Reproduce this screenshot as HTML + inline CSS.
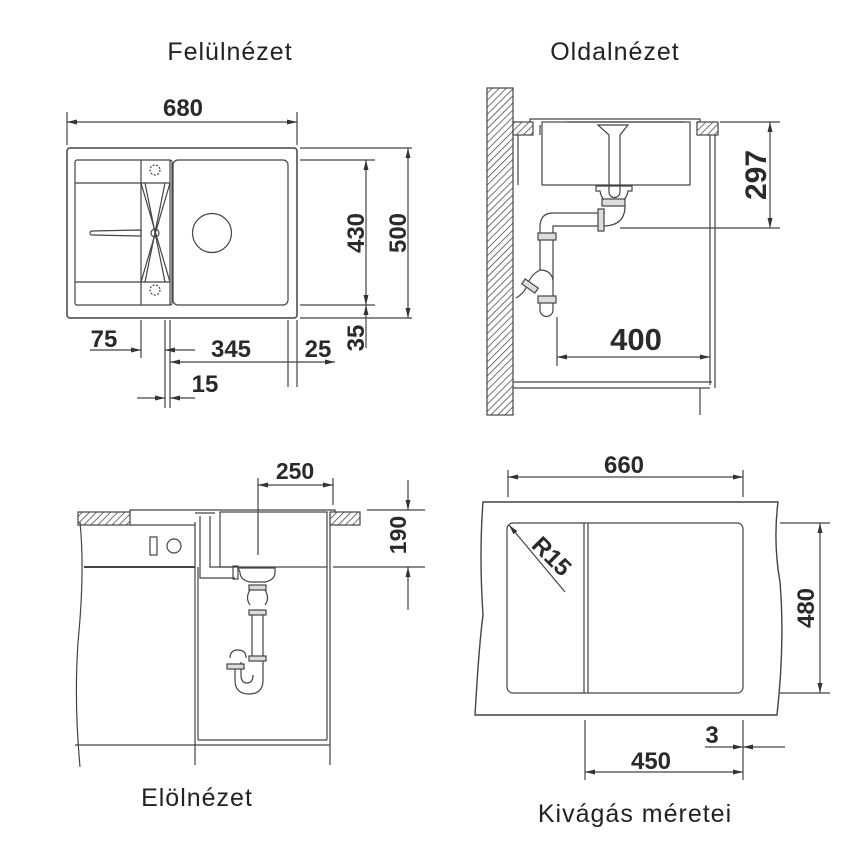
<!DOCTYPE html>
<html><head><meta charset="utf-8"><style>
html,body{margin:0;padding:0;background:#fff;}
svg{display:block}
.t{font-family:"Liberation Sans",sans-serif;font-size:25px;fill:#222;letter-spacing:1px}
.d{font-family:"Liberation Sans",sans-serif;font-weight:bold;fill:#2a2a2a}
</style></head><body>
<svg width="850" height="850" viewBox="0 0 850 850" xmlns="http://www.w3.org/2000/svg">
<defs>
<pattern id="h" width="5" height="5" patternUnits="userSpaceOnUse" patternTransform="rotate(45)">
<rect width="5" height="5" fill="#fff"/><line x1="0" y1="0" x2="0" y2="5" stroke="#444" stroke-width="1.5"/>
</pattern>
<marker id="a" viewBox="0 0 10 6" refX="10" refY="3" markerWidth="10" markerHeight="6" orient="auto-start-reverse" markerUnits="userSpaceOnUse">
<path d="M0,0.5 L10,3 L0,5.5z" fill="#333"/></marker>
</defs>
<g fill="none" stroke="#444" stroke-width="1.2">

<!-- TOP LEFT -->
<line x1="67" y1="112" x2="67" y2="145"/><line x1="297" y1="112" x2="297" y2="145"/>
<line x1="67" y1="122" x2="297" y2="122" marker-start="url(#a)" marker-end="url(#a)"/>
<rect x="67" y="148" width="230" height="170" rx="3" stroke-width="1.5"/>
<rect x="75" y="160" width="97" height="145" rx="2"/>
<rect x="173" y="160" width="115" height="145" rx="5"/>
<line x1="141" y1="160" x2="141" y2="305"/><line x1="170" y1="160" x2="170" y2="305"/>
<line x1="75" y1="183" x2="170" y2="183"/><line x1="75" y1="282" x2="170" y2="282"/>
<line x1="141" y1="183" x2="170" y2="282"/><line x1="170" y1="183" x2="141" y2="282"/>
<line x1="145" y1="183" x2="165" y2="282"/><line x1="165" y1="183" x2="145" y2="282"/>
<circle cx="155" cy="170" r="5" stroke-dasharray="2 1.5"/><circle cx="155" cy="290" r="5" stroke-dasharray="2 1.5"/>
<circle cx="155" cy="233" r="4"/>
<path d="M92,231 L141,230 L141,236 L92,235 a2,2 0 0 1 0,-4z"/>
<circle cx="212" cy="233" r="19.5"/>
<line x1="300" y1="148" x2="412" y2="148"/><line x1="300" y1="318" x2="412" y2="318"/>
<line x1="300" y1="160" x2="375" y2="160"/><line x1="300" y1="305" x2="375" y2="305"/>
<line x1="366" y1="160" x2="366" y2="305" marker-start="url(#a)" marker-end="url(#a)"/>
<line x1="408" y1="148" x2="408" y2="318" marker-start="url(#a)" marker-end="url(#a)"/>
<line x1="366" y1="348" x2="366" y2="305" marker-end="url(#a)"/>
<line x1="141" y1="320" x2="141" y2="358"/>
<line x1="165" y1="320" x2="165" y2="408"/><line x1="170" y1="320" x2="170" y2="408"/>
<line x1="288" y1="320" x2="288" y2="387"/><line x1="297" y1="320" x2="297" y2="387"/>
<line x1="90" y1="350" x2="141" y2="350" marker-end="url(#a)"/>
<line x1="195" y1="350" x2="165" y2="350" marker-end="url(#a)"/>
<line x1="170" y1="362" x2="335" y2="362" marker-start="url(#a)" marker-end="url(#a)"/>
<line x1="137" y1="398" x2="165" y2="398" marker-end="url(#a)"/>
<line x1="195" y1="398" x2="170" y2="398" marker-end="url(#a)"/>

<!-- TOP RIGHT -->
<rect x="487" y="88" width="26" height="327" fill="url(#h)"/>
<rect x="513" y="122" width="20" height="13" fill="url(#h)"/>
<rect x="697" y="122" width="21" height="13" fill="url(#h)"/>
<path d="M530,122 L530,119 L700,119 L700,122"/>
<line x1="567" y1="122" x2="685" y2="122"/>
<rect x="542" y="122" width="148" height="63"/>
<line x1="518" y1="135" x2="518" y2="185"/><line x1="540" y1="125" x2="540" y2="135"/>
<line x1="710" y1="135" x2="710" y2="385"/><line x1="715" y1="135" x2="715" y2="388"/>
<path d="M598,125 L628,125 L620,135 L620,192 a5,5 0 0 1 -11,0 L609,135z"/>
<path d="M596,186 L632,186 L632,191 L628,191 q-2,12 -14,12 q-12,0 -14,-12 L596,191z"/>
<rect x="602" y="199" width="23" height="7" fill="#ddd"/>
<path d="M625,206 q0,20 -22,20 L553,226 L553,235 M605,213 L553,213 q-13,0 -13,14 L540,235"/>
<rect x="598" y="209" width="6" height="22" fill="#ddd"/>
<rect x="538" y="233" width="18" height="7" fill="#ddd"/>
<path d="M540,240 L540,270 M553,240 L553,310 a6,6 0 0 1 -13,0 L540,298"/>
<path d="M540,270 q-10,5 -14,18 q-3,6 -10,10 M553,280 q-2,-10 -13,-10"/>
<rect x="538" y="296" width="18" height="7" fill="#ddd"/>
<rect x="522" y="283" width="16" height="6" fill="#ddd" transform="rotate(35 530 286)"/>
<line x1="720" y1="122" x2="780" y2="122"/><line x1="620" y1="228" x2="780" y2="228"/>
<line x1="770" y1="122" x2="770" y2="228" marker-start="url(#a)" marker-end="url(#a)"/>
<line x1="557" y1="317" x2="557" y2="366"/>
<line x1="557" y1="357" x2="710" y2="357" marker-start="url(#a)" marker-end="url(#a)"/>
<line x1="513" y1="382" x2="712" y2="382"/><line x1="513" y1="388" x2="710" y2="388"/>
<line x1="700" y1="388" x2="700" y2="415"/>

<!-- BOTTOM LEFT -->
<line x1="258" y1="478" x2="258" y2="555"/><line x1="333" y1="478" x2="333" y2="505"/>
<line x1="258" y1="485" x2="333" y2="485" marker-start="url(#a)" marker-end="url(#a)"/>
<rect x="78" y="512" width="52" height="13" fill="url(#h)"/>
<rect x="330" y="512" width="30" height="13" fill="url(#h)"/>
<path d="M130,512 L130,510 L335,510 L335,512"/>
<rect x="220" y="512" width="107" height="55"/>
<line x1="195" y1="522" x2="195" y2="765"/><line x1="330" y1="522" x2="330" y2="765"/>
<line x1="198" y1="567" x2="198" y2="740"/><line x1="327" y1="567" x2="327" y2="740"/>
<line x1="198" y1="740" x2="327" y2="740"/>
<line x1="75" y1="745" x2="330" y2="745"/>
<path d="M80,522 q5,50 -2,120 q-4,60 2,125"/>
<line x1="84" y1="567" x2="195" y2="567" stroke-width="2"/>
<line x1="130" y1="525" x2="195" y2="525"/>
<rect x="150" y="537" width="7" height="18"/><circle cx="174" cy="546" r="7"/>
<path d="M195,513 L215,513 M200,516 L200,578 L235,578 M210,516 L210,567 L235,567"/>
<rect x="233" y="566" width="5" height="13"/>
<path d="M238,568 L275,568 L275,572 q0,8 -10,10 L250,582 q-10,-2 -10,-10z"/>
<rect x="249" y="585" width="17" height="5" fill="#ddd"/>
<path d="M250,590 q-5,8 0,15 M265,590 q5,8 0,15"/>
<rect x="249" y="610" width="17" height="5" fill="#ddd"/>
<path d="M252,615 L252,658 M263,615 L263,680 q0,14 -14,14 q-14,0 -14,-14 L235,665 M241,662 L241,675 q0,8 6,8 q6,0 6,-8"/>
<rect x="249" y="656" width="17" height="5" fill="#ddd"/>
<rect x="227" y="664" width="17" height="5" fill="#ddd"/>
<path d="M230,658 q0,-8 8,-8 q8,0 8,8"/>
<line x1="367" y1="510" x2="425" y2="510"/><line x1="333" y1="567" x2="425" y2="567"/>
<line x1="408" y1="480" x2="408" y2="510" marker-end="url(#a)"/>
<line x1="408" y1="610" x2="408" y2="567" marker-end="url(#a)"/>

<!-- BOTTOM RIGHT -->
<line x1="508" y1="470" x2="508" y2="497"/><line x1="743" y1="470" x2="743" y2="497"/>
<line x1="508" y1="477" x2="743" y2="477" marker-start="url(#a)" marker-end="url(#a)"/>
<path d="M483,502 L778,502 q-5,40 2,80 q5,60 -3,133 L475,715 q4,-70 8,-100 q-4,-60 0,-113z" stroke-width="1.4"/>
<rect x="507" y="523" width="236" height="170" rx="6"/>
<line x1="584" y1="523" x2="584" y2="693"/><line x1="588" y1="523" x2="588" y2="693"/>
<line x1="565" y1="592" x2="509" y2="525" marker-end="url(#a)"/>
<line x1="780" y1="523" x2="830" y2="523"/><line x1="780" y1="693" x2="830" y2="693"/>
<line x1="820" y1="523" x2="820" y2="693" marker-start="url(#a)" marker-end="url(#a)"/>
<line x1="585" y1="720" x2="585" y2="780"/><line x1="743" y1="720" x2="743" y2="780"/>
<line x1="585" y1="772" x2="743" y2="772" marker-start="url(#a)" marker-end="url(#a)"/>
<line x1="705" y1="747" x2="743" y2="747" marker-end="url(#a)"/>
<line x1="785" y1="747" x2="743" y2="747" marker-end="url(#a)"/>
</g>

<!-- text -->
<text class="t" x="230" y="60" text-anchor="middle">Felülnézet</text>
<text class="t" x="615" y="60" text-anchor="middle">Oldalnézet</text>
<text class="t" x="197" y="806" text-anchor="middle">Elölnézet</text>
<text class="t" x="635" y="822" text-anchor="middle">Kivágás méretei</text>

<text class="d" x="183" y="116" font-size="24" text-anchor="middle">680</text>
<text class="d" font-size="24" text-anchor="middle" transform="translate(364,233) rotate(-90)">430</text>
<text class="d" font-size="24" text-anchor="middle" transform="translate(406,233) rotate(-90)">500</text>
<text class="d" font-size="24" text-anchor="middle" transform="translate(364,338) rotate(-90)">35</text>
<text class="d" x="104" y="347" font-size="24" text-anchor="middle">75</text>
<text class="d" x="231" y="357" font-size="24" text-anchor="middle">345</text>
<text class="d" x="318" y="357" font-size="24" text-anchor="middle">25</text>
<text class="d" x="205" y="392" font-size="24" text-anchor="middle">15</text>

<text class="d" font-size="30" text-anchor="middle" transform="translate(766,175) rotate(-90)">297</text>
<text class="d" x="636" y="350" font-size="31" text-anchor="middle">400</text>

<text class="d" x="295" y="479" font-size="23" text-anchor="middle">250</text>
<text class="d" font-size="23" text-anchor="middle" transform="translate(406,535) rotate(-90)">190</text>

<text class="d" x="624" y="473" font-size="24" text-anchor="middle">660</text>
<text class="d" font-size="24" text-anchor="middle" transform="translate(546,562) rotate(45)">R15</text>
<text class="d" font-size="24" text-anchor="middle" transform="translate(814,608) rotate(-90)">480</text>
<text class="d" x="651" y="769" font-size="24" text-anchor="middle">450</text>
<text class="d" x="712" y="743" font-size="24" text-anchor="middle">3</text>
</svg>
</body></html>
